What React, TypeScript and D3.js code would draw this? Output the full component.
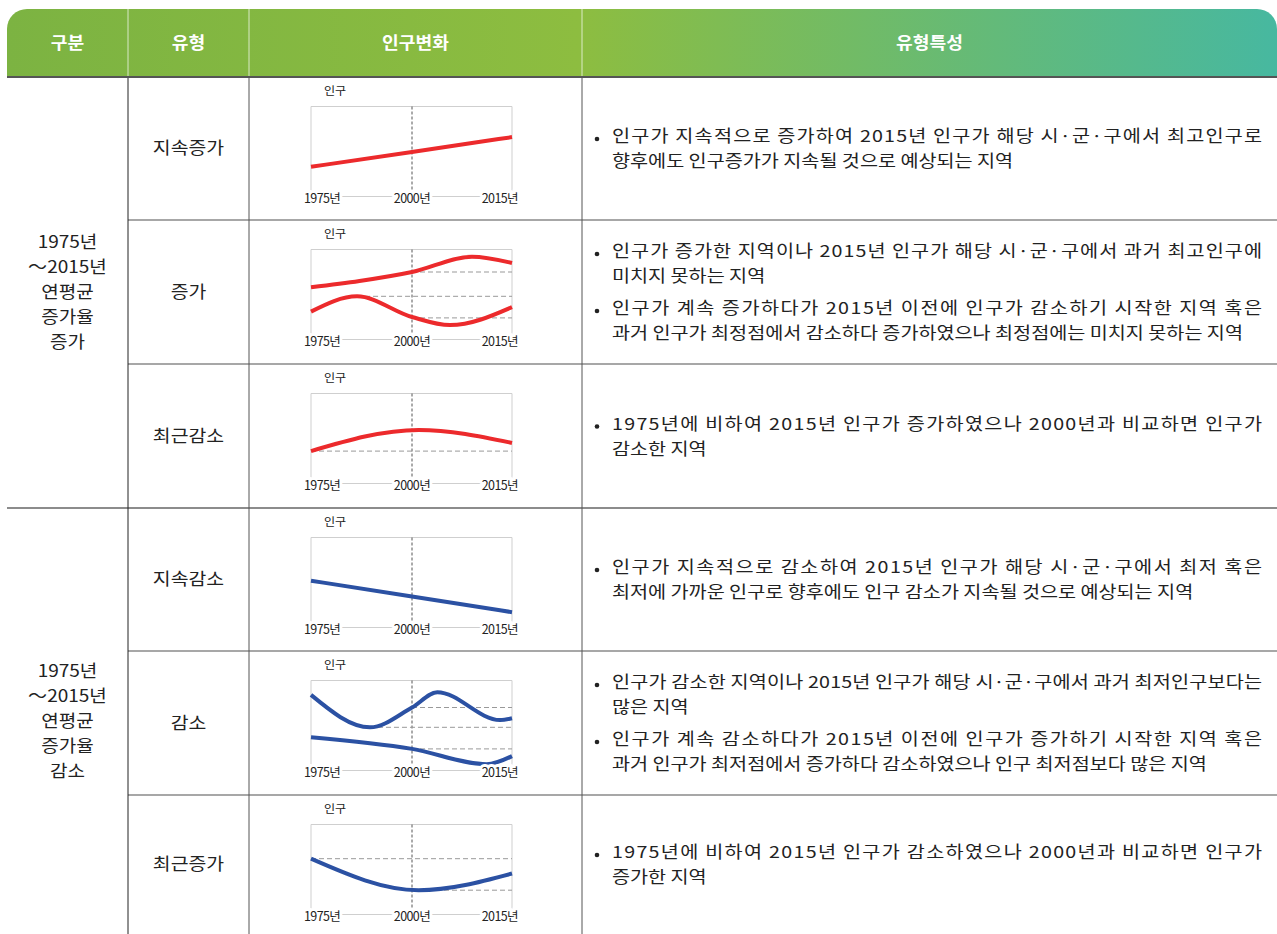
import * as d3 from "d3";

// 표 머리글과 분류
const headerLabels = ["구분", "유형", "인구변화", "유형특성"];
const groupLabels = [
  ["1975년", "～2015년", "연평균", "증가율", "증가"],
  ["1975년", "～2015년", "연평균", "증가율", "감소"],
];
const typeLabels = ["지속증가", "증가", "최근감소", "지속감소", "감소", "최근증가"];

// 미니 차트 눈금
const years = [1975, 2000, 2015];
const tickLabels = ["1975년", "2000년", "2015년"];

// 인구 지수 (0 = 축, 100 = 상자 위) [연도, 값]
const steadyUp = [[1975, 33], [2000, 49.5], [2015, 66]];
const riseHigh = [[1975, 58], [1987, 65], [2000, 75], [2009, 92], [2015, 85]];
const riseLow = [[1975, 31], [1986.4, 48], [2000, 25], [2005.7, 16], [2015, 36]];
const recentDown = [[1975, 36], [2001, 59.5], [2015, 45]];
const steadyDown = [[1975, 52], [2000, 34.5], [2015, 17]];
const fallHigh = [[1975, 84], [1989.6, 48], [2000, 70], [2003.8, 87], [2013.2, 56], [2015, 58]];
const fallLow = [[1975, 37], [2000, 24], [2011.2, 7], [2015, 16]];
const recentUp = [[1975, 62], [2001, 27], [2015, 45.5]];

// 기준 점선 [시작 연도, 값]
const riseRefs = [[2000, 75], [1986.4, 48], [2000, 24]];
const recentDownRefs = [[1975, 36]];
const fallRefs = [[2000, 70], [1989.6, 48], [2000, 24]];
const recentUpRefs = [[1975, 62], [2000, 27]];

const descriptions = [
  [["인구가 지속적으로 증가하여 2015년 인구가 해당 시·군·구에서 최고인구로", "향후에도 인구증가가 지속될 것으로 예상되는 지역"]],
  [
    ["인구가 증가한 지역이나 2015년 인구가 해당 시·군·구에서 과거 최고인구에", "미치지 못하는 지역"],
    ["인구가 계속 증가하다가 2015년 이전에 인구가 감소하기 시작한 지역 혹은", "과거 인구가 최정점에서 감소하다 증가하였으나 최정점에는 미치지 못하는 지역"],
  ],
  [["1975년에 비하여 2015년 인구가 증가하였으나 2000년과 비교하면 인구가", "감소한 지역"]],
  [["인구가 지속적으로 감소하여 2015년 인구가 해당 시·군·구에서 최저 혹은", "최저에 가까운 인구로 향후에도 인구 감소가 지속될 것으로 예상되는 지역"]],
  [
    ["인구가 감소한 지역이나 2015년 인구가 해당 시·군·구에서 과거 최저인구보다는", "많은 지역"],
    ["인구가 계속 감소하다가 2015년 이전에 인구가 증가하기 시작한 지역 혹은", "과거 인구가 최저점에서 증가하다 감소하였으나 인구 최저점보다 많은 지역"],
  ],
  [["1975년에 비하여 2015년 인구가 감소하였으나 2000년과 비교하면 인구가", "증가한 지역"]],
];

const RED = "#ec2a2c";
const BLUE = "#2b51a3";

const charts = [
  { color: RED, series: [steadyUp], refs: [] },
  { color: RED, series: [riseHigh, riseLow], refs: riseRefs },
  { color: RED, series: [recentDown], refs: recentDownRefs },
  { color: BLUE, series: [steadyDown], refs: [] },
  { color: BLUE, series: [fallHigh, fallLow], refs: fallRefs },
  { color: BLUE, series: [recentUp], refs: recentUpRefs },
];

const width = 1277;
const height = 934;
const font = "'Noto Sans CJK KR', 'Noto Sans', sans-serif";
const colX = [7, 128, 249, 582, 1277];
const headerTop = 9;
const headerBottom = 77;
const rowTops = [77, 220, 364, 508, 651, 795, 934];
const textLeft = 612;
const textRight = 1262;

// 원본 글꼴이 넓어서 가로로 늘려 씀
const WideText = ({ x, y, sx = 1.15, size = 17, anchor = "start", fill = "#222", weight = "normal", fit, children }) => (
  <g transform={`translate(${x},${y}) scale(${sx},1)`}>
    <text
      x={0}
      y={0}
      fontSize={size}
      fontWeight={weight}
      textAnchor={anchor}
      dominantBaseline="middle"
      fill={fill}
      textLength={fit ? fit / sx : undefined}
      lengthAdjust="spacing"
    >
      {children}
    </text>
  </g>
);

const MiniChart = ({ top, chart }) => {
  const x = d3.scaleLinear().domain(years).range([311, 412, 512]);
  const y = d3.scaleLinear().domain([0, 100]).range([top + 119.5, top + 29.5]);
  const line = d3
    .line()
    .x((d) => x(d[0]))
    .y((d) => y(d[1]))
    .curve(d3.curveMonotoneX);
  const x0 = x(years[0]);
  const x1 = x(years[2]);
  const yb = y(0);
  const yt = y(100);
  return (
    <g>
      <WideText x={335} y={top + 15} size={11} sx={1.1} anchor="middle">
        인구
      </WideText>
      <path d={`M${x0},${yb}V${yt}H${x1}V${yb}H${x0}`} fill="none" stroke="#cfcfcf" strokeWidth={1} />
      <line x1={x(2000)} x2={x(2000)} y1={yt} y2={yb} stroke="#555" strokeDasharray="3,2" strokeWidth={1} />
      {chart.refs.map((r, i) => (
        <line key={i} x1={x(r[0])} x2={x1} y1={y(r[1])} y2={y(r[1])} stroke="#999" strokeDasharray="5,3" strokeWidth={1} />
      ))}
      {chart.series.map((s, i) => (
        <path key={i} d={line(s)} fill="none" stroke={chart.color} strokeWidth={4} />
      ))}
      {tickLabels.map((t, i) => (
        <text
          key={t}
          x={i === 0 ? 304 : i === 1 ? x(years[1]) : 518}
          y={top + 123}
          fontSize={12.5}
          letterSpacing={-0.6}
          textAnchor={i === 0 ? "start" : i === 1 ? "middle" : "end"}
          dominantBaseline="middle"
          fill="#222"
          stroke="#fff"
          strokeWidth={6}
          style={{ paintOrder: "stroke" }}
        >
          {t}
        </text>
      ))}
    </g>
  );
};

const Description = ({ top, bottom, items }) => {
  const lineGap = 25;
  const bulletGap = 32;
  const nLines = items.reduce((a, b) => a + b.length, 0);
  const total = (nLines - items.length) * lineGap + (items.length - 1) * bulletGap;
  let cy = (top + bottom) / 2 - total / 2 + 2;
  const out = [];
  items.forEach((lines, bi) => {
    lines.forEach((ln, li) => {
      const justify = li < lines.length - 1;
      out.push(
        <g key={`${bi}-${li}`}>
          {li === 0 && <circle cx={597} cy={cy + 1} r={2.3} fill="#222" />}
          <WideText x={textLeft} y={cy} size={16.5} sx={1.19} fit={justify ? textRight - textLeft : undefined}>
            {ln}
          </WideText>
        </g>
      );
      if (li < lines.length - 1) cy += lineGap;
    });
    cy += bulletGap;
  });
  return <g>{out}</g>;
};

export default function App() {
  const headerPath = `M${colX[0]},${headerBottom}V${headerTop + 20}A20,20 0 0 1 ${colX[0] + 20},${headerTop}H${
    colX[4] - 20
  }A20,20 0 0 1 ${colX[4]},${headerTop + 20}V${headerBottom}Z`;
  const headerCenters = colX.slice(0, 4).map((c, i) => (c + colX[i + 1]) / 2);
  const groupCenters = [(rowTops[0] + rowTops[3]) / 2, (rowTops[3] + rowTops[6]) / 2];
  return (
    <svg
      width={width}
      height={height}
      style={{ position: "absolute", left: 0, top: 0, fontFamily: font, background: "#fff" }}
    >
      <defs>
        <linearGradient id="hdr" x1="0" x2="1" y1="0" y2="0">
          <stop offset="0%" stopColor="#7cb342" />
          <stop offset="45%" stopColor="#8dbd40" />
          <stop offset="100%" stopColor="#47b8a0" />
        </linearGradient>
      </defs>
      <path d={headerPath} fill="url(#hdr)" />
      {colX.slice(1, 4).map((c) => (
        <line key={c} x1={c} x2={c} y1={headerTop} y2={headerBottom} stroke="#fff" strokeOpacity={0.7} strokeWidth={1} />
      ))}
      {headerLabels.map((h, i) => (
        <WideText key={h} x={headerCenters[i]} y={(headerTop + headerBottom) / 2 + 1} fill="#fff" size={17} sx={1.07} weight="bold" anchor="middle">
          {h}
        </WideText>
      ))}

      {/* 가로 구분선 */}
      {[1, 2, 4, 5].map((i) => (
        <line key={i} x1={colX[1]} x2={colX[4]} y1={rowTops[i]} y2={rowTops[i]} stroke="#8a8a8a" strokeWidth={1.5} />
      ))}
      <line x1={colX[0]} x2={colX[4]} y1={rowTops[3]} y2={rowTops[3]} stroke="#666" strokeWidth={1.5} />
      {colX.slice(1, 4).map((c, i) => (
        <line key={c} x1={c} x2={c} y1={headerBottom} y2={height} stroke={i === 0 ? "#222" : "#555"} strokeWidth={1} />
      ))}
      <line x1={colX[0]} x2={colX[4]} y1={headerBottom} y2={headerBottom} stroke="#555" strokeWidth={2} />

      {groupLabels.map((g, gi) =>
        g.map((t, i) => (
          <WideText key={`${gi}-${i}`} x={headerCenters[0]} y={groupCenters[gi] + (i - 2) * 25 + 1} size={17} sx={1.12} anchor="middle">
            {t}
          </WideText>
        ))
      )}

      {typeLabels.map((t, i) => (
        <WideText key={t} x={headerCenters[1]} y={(rowTops[i] + rowTops[i + 1]) / 2 + 1} size={17} sx={1.14} anchor="middle">
          {t}
        </WideText>
      ))}

      {charts.map((c, i) => (
        <MiniChart key={i} top={rowTops[i]} chart={c} />
      ))}

      {descriptions.map((d, i) => (
        <Description key={i} top={rowTops[i]} bottom={rowTops[i + 1]} items={d} />
      ))}
    </svg>
  );
}
